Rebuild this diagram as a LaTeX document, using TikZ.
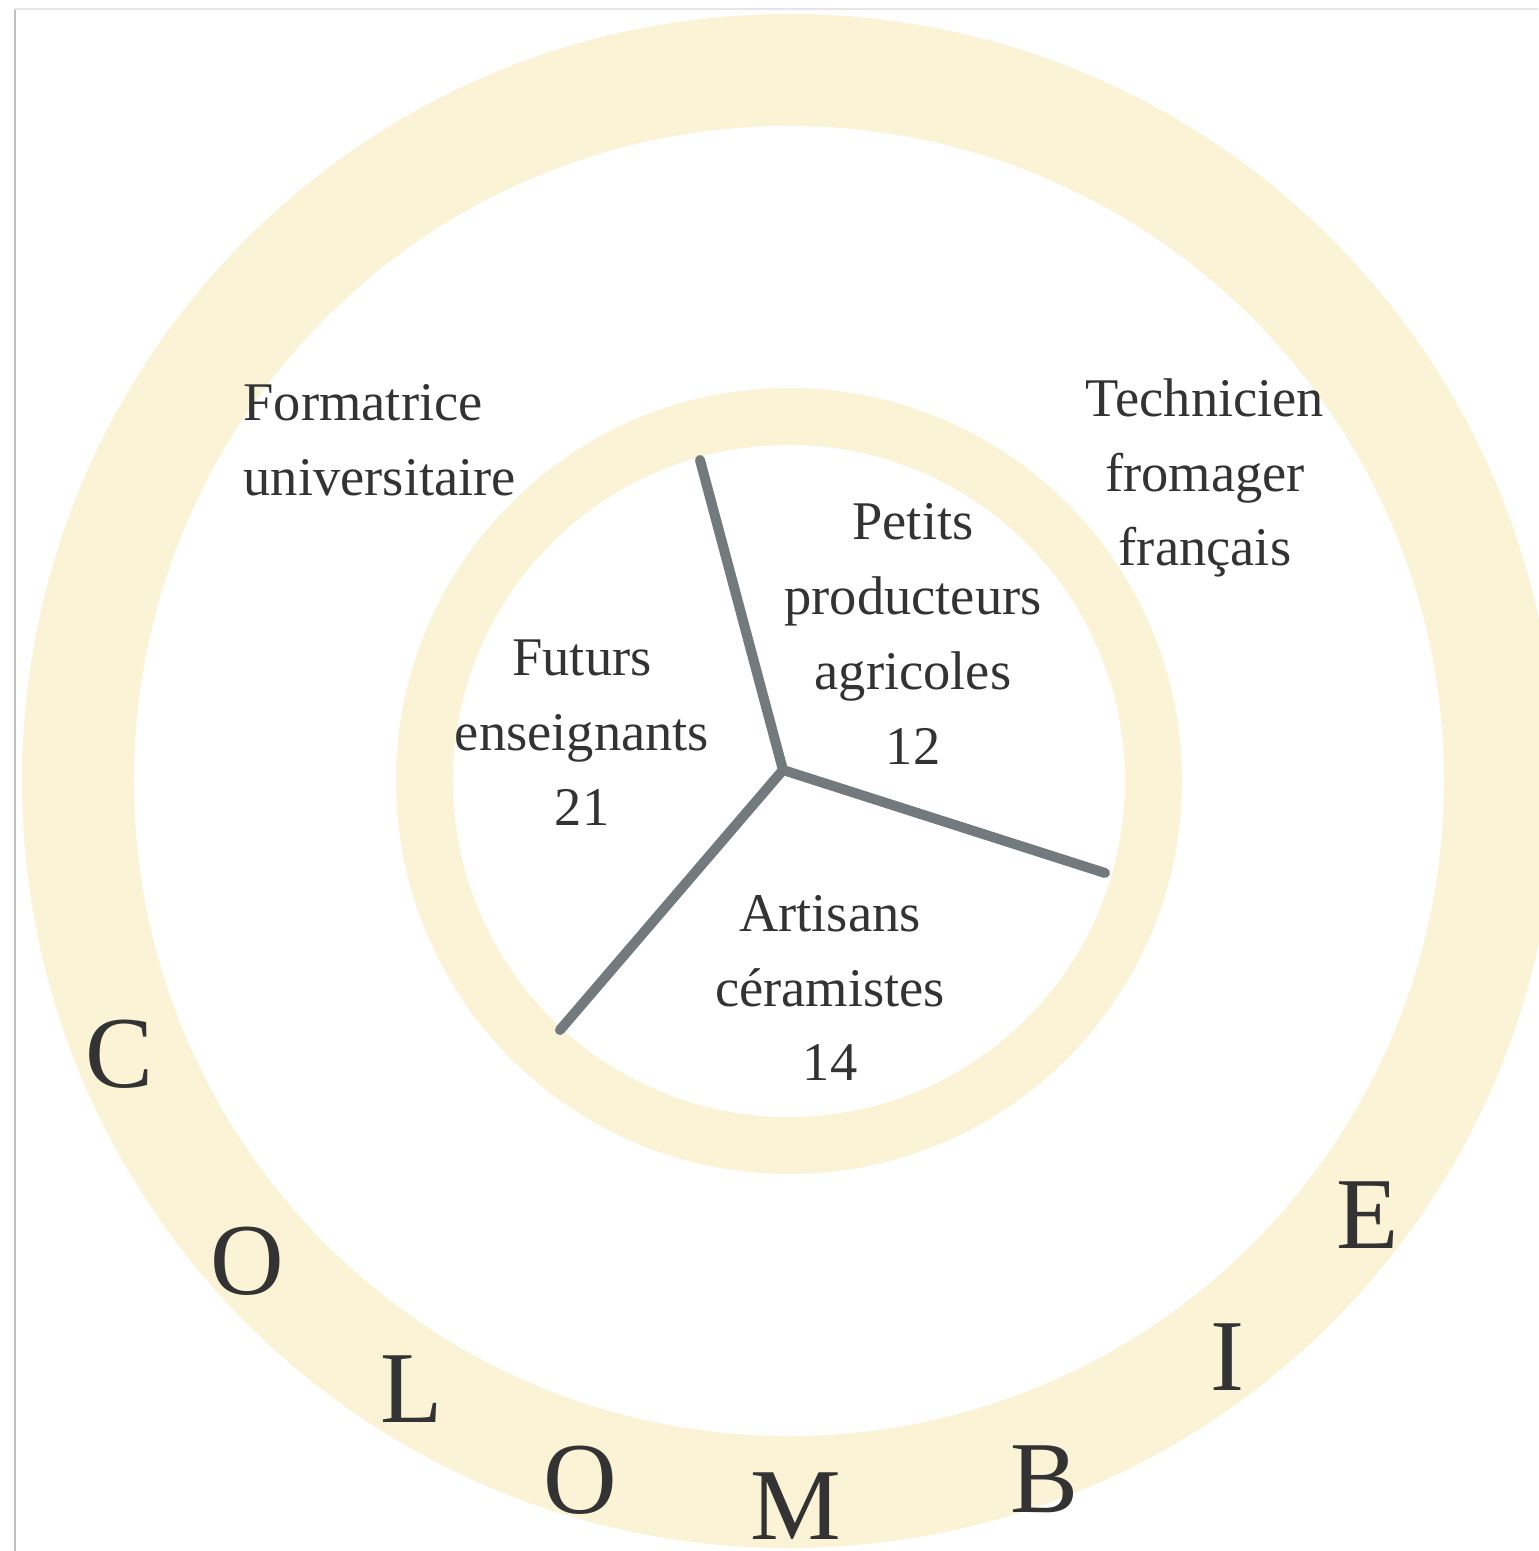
\documentclass[tikz,border=0pt]{standalone}
\usepackage{fontspec}
\setmainfont{Liberation Serif}
\definecolor{ringyellow}{RGB}{250,243,214}
\definecolor{spokegray}{RGB}{115,122,126}
\definecolor{ink}{RGB}{51,51,51}

\begin{document}
\begin{tikzpicture}[txt/.style = {text=ink, align=center, inner sep=0pt, font=\fontsize{15.5}{21.3}\selectfont}, big/.style = {text=ink, inner sep=0pt, font=\fontsize{29}{29}\selectfont}, spoke/.style = {draw=spokegray, line width=1mm, line cap=round}]
\useasboundingbox (-7.89,-7.70) rectangle (7.49,7.81);
% rings
\draw[ringyellow, line width=11.2mm] (0,0) circle (7.11);
\draw[ringyellow, line width=5.7mm] (0,0) circle (3.645);
% frame
\draw[gray!50, line width=0.2mm] (-7.74,-7.70) -- (-7.74,7.72);
\draw[gray!20, line width=0.2mm] (-7.74,7.72) -- (7.49,7.72);
% spokes
\coordinate (c) at (-0.06,0.11);
\coordinate (a) at (-0.89,3.21);
\coordinate (b) at (3.16,-0.92);
\coordinate (d) at (-2.29,-2.49);
\draw[spoke] (c) -- (a);
\draw[spoke] (c) -- (b);
\draw[spoke] (c) -- (d);
% groups
\node[txt] (futurs) at (-2.07,0.48) {Futurs\\enseignants\\21};
\node[txt] (petits) at (1.24,1.47) {Petits\\producteurs\\agricoles\\12};
\node[txt] (artisans) at (0.41,-2.07) {Artisans\\céramistes\\14};
\node[txt, align=left, anchor=west] (formatrice) at (-5.46,3.41) {Formatrice\\universitaire};
\node[txt] (technicien) at (4.16,3.03) {Technicien\\fromager\\français};
% country
\foreach \a/\r/\l [count=\i] in {202.2/7.23/C, 221.6/7.24/O, 238.2/7.16/L, 253.4/7.30/O, 270.5/7.25/M, 290.1/7.44/B, 307.3/7.24/I, 323.1/7.23/E}
  \node[big] (l\i) at (\a:\r) {\l};
\end{tikzpicture}
\end{document}
